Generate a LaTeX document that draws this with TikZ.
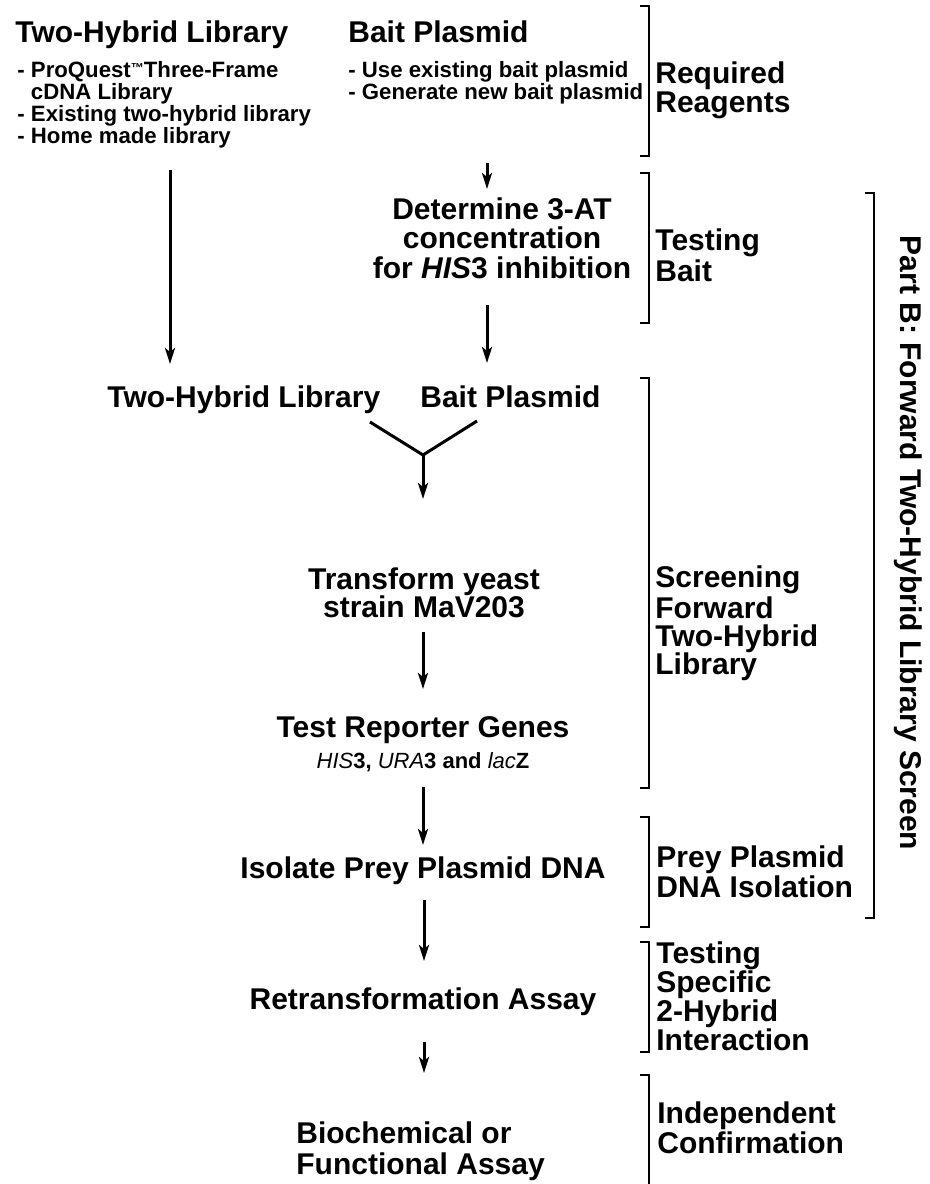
\documentclass[tikz,border=0pt]{standalone}
\usepackage{fontspec}
\setmainfont{Liberation Sans}
\usetikzlibrary{arrows.meta}

\newcommand\bigtext[1]{\fontsize{15}{#1}\selectfont\bfseries}
\newcommand\smalltext{\fontsize{11.1}{11}\selectfont\bfseries}
\newcommand\gene[1]{{\mdseries\itshape #1}}
\newcommand\tmark{\raisebox{2.2pt}{\fontsize{6.5}{6.5}\selectfont ™}}

\tikzset{
  every node/.style={inner sep=0pt},
  title/.style={anchor=base west, font=\bigtext{15}},
  options/.style={anchor=base west, align=left, font=\smalltext},
  stage/.style={anchor=base, align=center, font=\bigtext{#1}},
  stage/.default=14.75,
  phase/.style={anchor=base west, align=left, font=\bigtext{#1}},
  phase/.default=14,
  flow/.style={line width=1.5pt, -{Stealth[length=8pt,width=5pt,inset=2pt]}},
  brace/.style={line width=0.8pt}
}

\begin{document}
\begin{tikzpicture}[x=0.5pt,y=-0.5pt]
\useasboundingbox (0,0) rectangle (930,1184);

% Reagents (multi-line nodes are placed by their last line)
\node[title] (lib) at (15,42) {Two-Hybrid Library};
\node[title] (bait) at (348,42) {Bait Plasmid};
\node[options] (libopt) at (17,143) {- ProQuest\tmark Three-Frame\\\hphantom{- }cDNA Library\\- Existing two-hybrid library\\- Home made library};
\node[options] (baitopt) at (348,99) {- Use existing bait plasmid\\- Generate new bait plasmid};

% Steps
\node[stage] (test) at (502,278) {Determine 3-AT\\concentration\\for \textit{HIS}3 inhibition};
\node[title] (lib2) at (107,407) {Two-Hybrid Library};
\node[title] (bait2) at (420,407) {Bait Plasmid};
\node[stage=14] (trans) at (424,617) {Transform yeast\\strain MaV203};
\node[stage] (genes) at (423,737) {Test Reporter Genes};
\node[anchor=base, font=\fontsize{11}{11}\selectfont\bfseries] (reporter) at (423,768)
  {\gene{HIS}3, \gene{URA}3 and \gene{lac}Z};
\node[stage] (iso) at (423,878) {Isolate Prey Plasmid DNA};
\node[stage] (retrans) at (423,1009) {Retransformation Assay};
\node[stage=15.5, align=left, anchor=base west] (assay) at (296,1174) {Biochemical or\\Functional Assay};

% Arrow end points
\coordinate (L1) at (170,170);
\coordinate (L2) at (170,364);
\coordinate (B1) at (487,163);
\coordinate (B2) at (487,189);
\coordinate (B3) at (487,305);
\coordinate (B4) at (487,363);
\coordinate (Yl) at (370,422);
\coordinate (Yr) at (477,421);
\coordinate (Y) at (423,455);
\coordinate (Y1) at (423,499);
\coordinate (T1) at (423,632);
\coordinate (T2) at (423,689);
\coordinate (G1) at (423,787);
\coordinate (G2) at (423,845);
\coordinate (I1) at (424,900);
\coordinate (I2) at (424,961);
\coordinate (R1) at (424,1042);
\coordinate (R2) at (424,1073);

% Arrows
\draw[flow] (L1) -- (L2);
\draw[flow] (B1) -- (B2);
\draw[flow] (B3) -- (B4);
\draw[line width=1.5pt] (Yl) -- (Y) -- (Yr);
\draw[flow] (Y) -- (Y1);
\draw[flow] (T1) -- (T2);
\draw[flow] (G1) -- (G2);
\draw[flow] (I1) -- (I2);
\draw[flow] (R1) -- (R2);

% Brackets
\draw[brace] (640,6) -- (649,6) -- (649,156) -- (640,156);
\draw[brace] (640,173) -- (649,173) -- (649,323) -- (640,323);
\draw[brace] (640,378) -- (649,378) -- (649,788) -- (640,788);
\draw[brace] (640,817) -- (649,817) -- (649,927) -- (640,927);
\draw[brace] (640,942) -- (649,942) -- (649,1052) -- (640,1052);
\draw[brace] (640,1075) -- (649,1075) -- (649,1184);
\draw[brace] (865,193) -- (874,193) -- (874,918) -- (865,918);

% Phase labels
\node[phase=13] (reagents) at (655,112) {Required\\Reagents};
\node[phase=13] (testbait) at (655,281) {Testing\\Bait};
\node[phase] (screening) at (655,674) {Screening\\Forward\\Two-Hybrid\\Library};
\node[phase=15] (prey) at (656,897) {Prey Plasmid\\DNA Isolation};
\node[phase=14.5] (specific) at (656,1050) {Testing\\Specific\\2-Hybrid\\Interaction};
\node[phase=15] (confirm) at (657,1153) {Independent\\Confirmation};
\node[rotate=-90, font=\bigtext{15}] (partb) at (908,543) {Part B: Forward Two-Hybrid Library Screen};

\end{tikzpicture}
\end{document}
